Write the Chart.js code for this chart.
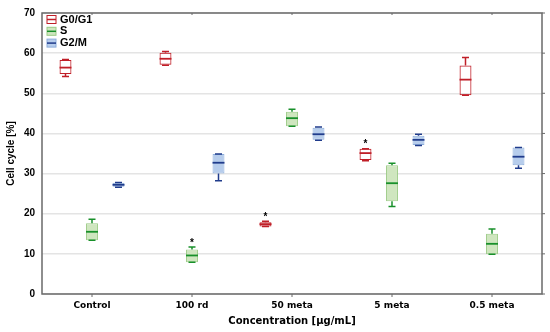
<!DOCTYPE html>
<html>
<head>
<meta charset="utf-8">
<script src="https://cdn.jsdelivr.net/npm/chart.js@4.4.0/dist/chart.umd.min.js"></script>
<style>
  html, body { margin: 0; padding: 0; background: #fff; }
  #wrap { width: 550px; height: 332px; }
</style>
</head>
<body>
<div id="wrap"><canvas id="chart" width="550" height="332"></canvas></div>
<script>
// categories and box statistics
const categories = ["Control", "100 rd", "50 meta", "5 meta", "0.5 meta"];
const yTicks = [0, 10, 20, 30, 40, 50, 60, 70];

const g0Min = [54.2, 57.0, 16.8, 33.2, 49.5];
const g0Q1  = [54.8, 57.1, 16.8, 33.4, 49.5];
const g0Med = [56.4, 58.6, 17.4, 35.1, 53.4];
const g0Q3  = [58.3, 60.1, 17.9, 36.2, 56.9];
const g0Max = [58.4, 60.4, 18.1, 36.2, 58.9];
const g0Star = [false, false, true, true, false];

const sMin = [13.4, 7.9, 41.8, 21.8, 9.9];
const sQ1  = [13.4, 7.9, 41.8, 23.1, 9.9];
const sMed = [15.5, 9.6, 43.8, 27.6, 12.5];
const sQ3  = [17.6, 11.1, 45.4, 32.1, 15.0];
const sMax = [18.6, 11.7, 46.0, 32.6, 16.2];
const sStar = [false, true, false, false, false];

const g2Min = [26.6, 28.2, 38.3, 37.0, 31.3];
const g2Q1  = [26.7, 30.0, 38.4, 37.1, 32.1];
const g2Med = [27.2, 32.7, 39.8, 38.4, 34.2];
const g2Q3  = [27.7, 34.9, 41.4, 39.4, 36.5];
const g2Max = [27.8, 34.9, 41.6, 39.8, 36.5];
const g2Star = [false, false, false, false, false];

const series = [
  { label: "G0/G1", min: g0Min, q1: g0Q1, med: g0Med, q3: g0Q3, max: g0Max, star: g0Star,
    fill: "rgba(255,255,255,0)", border: "#c01f28", line: "#c01f28" },
  { label: "S", min: sMin, q1: sQ1, med: sMed, q3: sQ3, max: sMax, star: sStar,
    fill: "#cfe6bf", border: "#9ccb86", line: "#18902a" },
  { label: "G2/M", min: g2Min, q1: g2Q1, med: g2Med, q3: g2Q3, max: g2Max, star: g2Star,
    fill: "#b7cdec", border: "#8eaedb", line: "#203c8c" }
];

// whiskers, medians, stars, frame and legend
const boxExtras = {
  id: "boxExtras",
  afterDatasetsDraw(chart) {
    const ctx = chart.ctx;
    const y = chart.scales.y;
    series.forEach((s, d) => {
      const meta = chart.getDatasetMeta(d);
      meta.data.forEach((bar, i) => {
        const x = bar.x;
        const half = bar.width / 2;
        ctx.save();
        ctx.strokeStyle = s.line;
        ctx.lineWidth = 1.5;
        ctx.beginPath();
        // upper whisker
        if (s.max[i] > s.q3[i]) {
          ctx.moveTo(x, y.getPixelForValue(s.q3[i]));
          ctx.lineTo(x, y.getPixelForValue(s.max[i]));
        }
        ctx.moveTo(x - 3.5, y.getPixelForValue(s.max[i]));
        ctx.lineTo(x + 3.5, y.getPixelForValue(s.max[i]));
        // lower whisker
        if (s.min[i] < s.q1[i]) {
          ctx.moveTo(x, y.getPixelForValue(s.q1[i]));
          ctx.lineTo(x, y.getPixelForValue(s.min[i]));
        }
        ctx.moveTo(x - 3.5, y.getPixelForValue(s.min[i]));
        ctx.lineTo(x + 3.5, y.getPixelForValue(s.min[i]));
        ctx.stroke();
        // median
        ctx.lineWidth = 1.8;
        ctx.beginPath();
        ctx.moveTo(x - half, y.getPixelForValue(s.med[i]));
        ctx.lineTo(x + half, y.getPixelForValue(s.med[i]));
        ctx.stroke();
        if (s.star[i]) {
          ctx.fillStyle = "#000";
          ctx.font = "bold 10px 'Liberation Sans'";
          ctx.textAlign = "center";
          ctx.textBaseline = "middle";
          ctx.fillText("*", x, y.getPixelForValue(s.max[i]) - 4);
        }
        ctx.restore();
      });
    });
  },
  afterDraw(chart) {
    const ctx = chart.ctx;
    const a = chart.chartArea;
    const x = chart.scales.x;
    const y = chart.scales.y;
    ctx.save();
    ctx.strokeStyle = "#6a6a6a";
    ctx.lineWidth = 1.5;
    ctx.strokeRect(a.left, a.top, a.right - a.left, a.bottom - a.top);
    ctx.lineWidth = 1;
    ctx.beginPath();
    categories.forEach((c, i) => {
      const px = x.getPixelForValue(i);
      ctx.moveTo(px, a.bottom);
      ctx.lineTo(px, a.bottom + 3);
      ctx.moveTo(px, a.top);
      ctx.lineTo(px, a.top + 2);
    });
    yTicks.forEach(v => {
      const py = y.getPixelForValue(v);
      ctx.moveTo(a.right, py);
      ctx.lineTo(a.right + 3, py);
    });
    ctx.stroke();

    // legend
    series.forEach((s, d) => {
      const cy = 19.5 + d * 11.8;
      ctx.fillStyle = s.fill;
      ctx.fillRect(47, cy - 4, 9, 8);
      ctx.strokeStyle = s.border;
      ctx.lineWidth = 1;
      ctx.strokeRect(47, cy - 4, 9, 8);
      ctx.strokeStyle = s.line;
      ctx.lineWidth = 1.5;
      ctx.beginPath();
      ctx.moveTo(47, cy);
      ctx.lineTo(56, cy);
      ctx.stroke();
      ctx.fillStyle = "#000";
      ctx.font = "bold 11px 'Liberation Sans'";
      ctx.textAlign = "left";
      ctx.textBaseline = "middle";
      ctx.fillText(s.label, 60, cy);
    });
    ctx.restore();
  }
};

new Chart(document.getElementById("chart"), {
  type: "bar",
  data: {
    labels: categories,
    datasets: series.map(s => ({
      label: s.label,
      data: s.q1.map((v, i) => [v, s.q3[i]]),
      backgroundColor: s.fill,
      borderColor: s.border,
      borderWidth: 1,
      borderSkipped: false,
      categoryPercentage: 0.795,
      barPercentage: 0.45
    }))
  },
  options: {
    responsive: false,
    animation: false,
    layout: { padding: { top: 11, right: 8, left: 0, bottom: 0 } },
    plugins: {
      legend: { display: false },
      tooltip: { enabled: false }
    },
    scales: {
      x: {
        grid: { display: false, drawTicks: false },
        border: { display: false },
        ticks: {
          color: "#000",
          padding: 6,
          font: { family: "'DejaVu Sans'", size: 9, weight: "bold" }
        },
        title: {
          display: true,
          text: "Concentration [µg/mL]",
          color: "#000",
          padding: { top: 0, bottom: 5 },
          font: { family: "'DejaVu Sans'", size: 10, weight: "bold" }
        },
        afterFit: s => { s.height = 38; }
      },
      y: {
        min: 0,
        max: 70,
        afterBuildTicks: s => { s.ticks = yTicks.map(v => ({ value: v })); },
        grid: { color: "#e4e4e4", lineWidth: 1.5, drawTicks: false },
        border: { display: false },
        ticks: {
          color: "#000",
          padding: 7,
          font: { family: "'Liberation Sans'", size: 10, weight: "bold" }
        },
        title: {
          display: true,
          text: "Cell cycle [%]",
          color: "#000",
          padding: { top: 5, bottom: 0 },
          font: { family: "'Liberation Sans'", size: 10, weight: "bold" }
        },
        afterFit: s => { s.width = 42; }
      }
    }
  },
  plugins: [boxExtras]
});
</script>
</body>
</html>
